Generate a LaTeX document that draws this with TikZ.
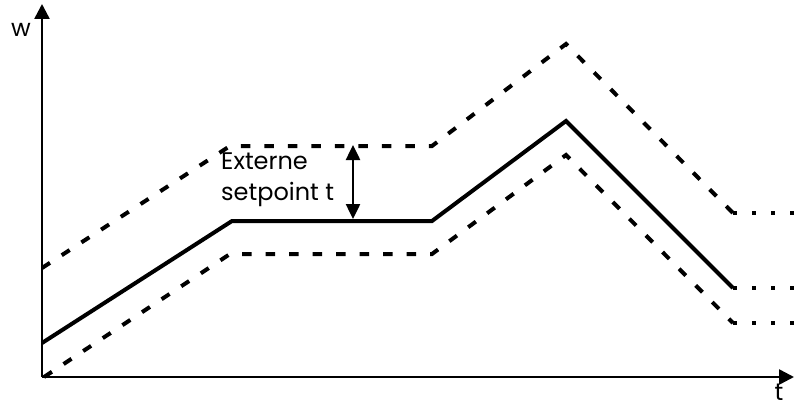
\documentclass[tikz,border=0pt]{standalone}
\usepackage{fontspec}
\setmainfont{Poppins}
\usetikzlibrary{arrows.meta}
\tikzset{
  axis/.style={line width=2.5pt,-{Triangle[length=15pt,width=15pt]}},
  solidline/.style={line width=4pt,line join=miter},
  dashline/.style={line width=4pt,dash pattern=on 9.5pt off 14pt},
  dotline/.style={line width=4pt,dash pattern=on 4pt off 15pt},
  lbl/.style={font=\fontsize{24}{31}\selectfont,inner sep=0pt}
}
\begin{document}
\begin{tikzpicture}[x=1pt,y=-1pt]
\useasboundingbox (0,0) rectangle (794,409);
\coordinate (O) at (42,377);
\coordinate (Ytop) at (42,4);
\coordinate (Xend) at (794,377);
\draw[axis] (O) -- (Ytop);
\draw[axis] (O) -- (Xend);
\node[lbl] (w) at (21,30) {w};
\node[lbl] (t) at (779,392) {t};
% solid
\coordinate (s0) at (42,343);
\coordinate (s1) at (232,221);
\coordinate (s2) at (432,221);
\coordinate (s3) at (566,121);
\coordinate (s4) at (733,288);
\coordinate (s5) at (794,288);
\draw[solidline] (s0) -- (s1) -- (s2) -- (s3) -- (s4);
\draw[dotline] (s4) -- (s5);
% upper dashed
\coordinate (u0) at (42,268);
\coordinate (u1) at (230,146);
\coordinate (u2) at (432,146);
\coordinate (u3) at (566,44);
\coordinate (u4) at (733,213);
\coordinate (u5) at (794,213);
\draw[dashline] (u0) -- (u1) -- (u2) -- (u3) -- (u4);
\draw[dotline] (u4) -- (u5);
% lower dashed
\coordinate (l0) at (44,377);
\coordinate (l1) at (230,254);
\coordinate (l2) at (432,254);
\coordinate (l3) at (566,155);
\coordinate (l4) at (733,323);
\coordinate (l5) at (794,323);
\draw[dashline] (l0) -- (l1) -- (l2) -- (l3) -- (l4);
\draw[dotline] (l4) -- (l5);
% arrow
\coordinate (at) at (353,145);
\coordinate (ab) at (353,219);
\draw[line width=2.5pt,{Triangle[length=15pt,width=14pt]}-{Triangle[length=15pt,width=14pt]}] (at) -- (ab);
\node[lbl,align=left,anchor=north west] (ext) at (221,153) {Externe\\setpoint t};
\end{tikzpicture}
\end{document}
